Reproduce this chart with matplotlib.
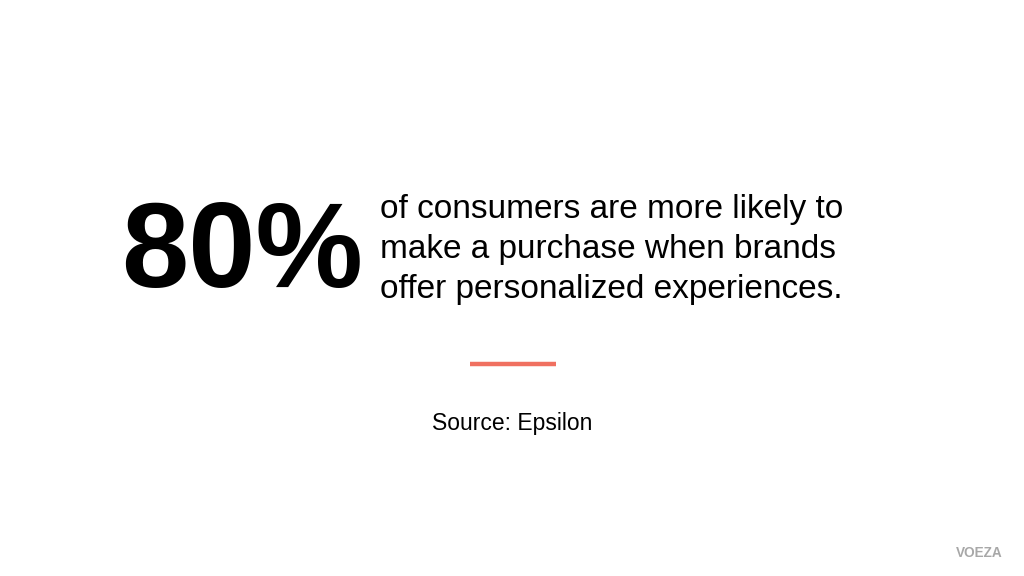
import matplotlib.pyplot as plt

stat_value = "80%"
stat_lines = ["of consumers are more likely to",
              "make a purchase when brands",
              "offer personalized experiences."]
source_text = "Source: Epsilon"
brand_text = "VOEZA"

plt.rcParams['font.family'] = ['Liberation Sans', 'DejaVu Sans']

fig = plt.figure(figsize=(10.24, 5.76), dpi=100)
W, H = 1024, 576

def fx(x):
    return x / W

def fy(y):
    return 1 - y / H

fig.text(fx(121), fy(287), stat_value, fontsize=87, fontweight='bold',
         color='black', ha='left', va='baseline')

for i, line in enumerate(stat_lines):
    fig.text(fx(380), fy(218 + i * 40), line, fontsize=24,
             color='black', ha='left', va='baseline')

fig.add_artist(plt.Line2D([fx(470), fx(556)], [fy(364), fy(364)],
                          color='#F07060', linewidth=3.2,
                          solid_capstyle='butt', transform=fig.transFigure))

fig.text(fx(512), fy(430), source_text, fontsize=16.5, color='black',
         ha='center', va='baseline')

fig.text(fx(1003), fy(557), brand_text, fontsize=9.8, fontweight='bold',
         color='#A8A8A8', ha='right', va='baseline')

fig.savefig("out.png", dpi=100, facecolor='white')
